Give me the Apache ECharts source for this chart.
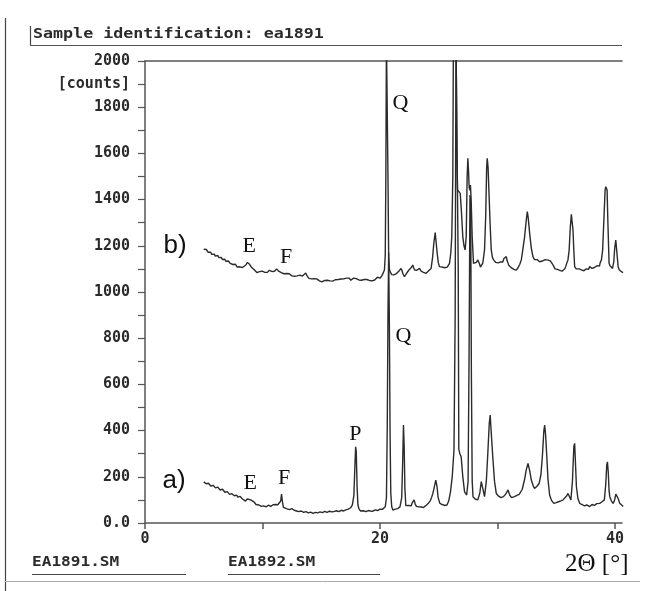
<!DOCTYPE html>
<html>
<head>
<meta charset="utf-8">
<script src="https://cdn.jsdelivr.net/npm/echarts@6/dist/echarts.min.js"></script>
<style>
  html, body { margin: 0; padding: 0; background: #fff; }
  #chart { width: 651px; height: 591px; }
</style>
</head>
<body>
<div id="chart"></div>
<script>
// Diffractogram of sample ea1891 (a) and ea1892 (b), counts vs 2-theta.
const sampleTitle = 'Sample identification: ea1891';
const fileNames = ['EA1891.SM', 'EA1892.SM'];
const xTicks = [0, 10, 20, 30, 40];
const xLabels = [0, 20, 40];
const yTicks = [0,100,200,300,400,500,600,700,800,900,1000,1100,1200,1300,1400,1500,1600,1700,1800,1900,2000];
const yLabels = [0,200,400,600,800,1000,1200,1400,1600,1800,1900,2000];
const yUnitAt = 1900;
const yUnitText = '[counts]';

// pattern a) [2theta, counts]
const patternA = [
  [5.0,178],[5.1,174],[5.2,170],[5.3,175],[5.4,172],[5.5,165],[5.6,160],[5.7,166],[5.8,163],[5.9,156],[6.0,152],[6.1,158],[6.2,155],[6.3,147],[6.4,143],[6.5,149],[6.6,146],[6.7,138],[6.8,133],[6.9,139],
  [7.0,136],[7.1,128],[7.2,124],[7.3,130],[7.4,127],[7.5,120],[7.6,118],[7.7,124],[7.8,121],[7.9,112],[8.0,108],[8.1,115],[8.2,112],[8.3,104],[8.4,100],[8.55,95],[8.7,104],
  [8.85,110],[9.0,100],[9.15,96],[9.3,90],[9.45,80],[9.6,73],[9.7,78],[9.8,76],[9.9,72],[10.0,70],[10.1,74],[10.2,75],[10.3,70],[10.4,71],
  [10.5,77],[10.6,76],[10.7,72],[10.8,73],[10.9,79],[11.0,78],[11.1,80],[11.2,82],[11.3,79],[11.4,86],[11.55,95],[11.62,125],[11.7,92],[11.78,68],[11.95,66],
  [12.1,61],[12.2,64],[12.3,58],[12.4,60],[12.5,62],[12.6,57],[12.7,55],[12.8,58],[12.9,52],[13.0,54],[13.1,49],[13.2,53],[13.3,52],[13.4,47],[13.5,46],[13.6,51],[13.7,49],[13.8,45],[13.9,44],
  [14.0,48],[14.1,47],[14.2,44],[14.3,42],[14.4,47],[14.5,46],[14.6,42],[14.7,44],[14.8,49],[14.9,48],[15.0,44],[15.1,45],[15.2,49],[15.3,50],[15.4,45],[15.5,46],[15.6,50],[15.7,51],[15.8,47],[15.9,48],
  [16.0,52],[16.1,50],[16.2,48],[16.3,53],[16.4,51],[16.5,49],[16.6,53],[16.7,55],[16.8,50],[16.9,52],[17.0,56],[17.1,57],[17.2,55],[17.3,60],[17.4,58],[17.5,66],[17.65,78],[17.78,120],
  [17.86,240],[17.93,330],[17.98,310],[18.05,160],[18.12,80],[18.2,62],[18.35,52],[18.5,48],[18.6,53],[18.7,55],[18.8,49],[18.9,50],
  [19.0,54],[19.1,49],[19.2,52],[19.3,56],[19.4,51],[19.5,53],[19.6,57],[19.7,58],[19.8,54],[19.9,57],[20.0,60],[20.1,62],[20.2,59],[20.3,65],[20.45,70],[20.55,110],[20.62,420],
  [20.68,900],[20.74,1170],[20.8,860],[20.86,380],[20.92,130],[21.0,70],[21.1,56],[21.2,62],[21.3,60],[21.4,65],[21.5,62],[21.6,68],[21.7,70],
  [21.85,110],[21.93,260],[22.0,424],[22.06,330],[22.12,150],[22.2,75],[22.35,68],[22.45,76],[22.55,80],[22.65,74],[22.75,88],[22.9,100],
  [23.0,82],[23.1,72],[23.2,66],[23.3,70],[23.4,64],[23.5,69],[23.6,72],[23.7,67],[23.8,70],[23.9,75],[24.0,78],[24.1,84],[24.2,90],[24.3,98],[24.4,112],[24.5,128],[24.6,150],[24.75,186],
  [24.85,160],[24.95,110],[25.1,85],[25.2,82],[25.3,80],[25.4,84],[25.5,76],[25.6,80],[25.7,78],[25.85,95],[26.0,135],[26.15,200],[26.3,316],
  [26.4,900],[26.47,2100],[26.6,2100],[26.66,1100],[26.71,320],[26.8,300],[26.91,287],[27.05,200],[27.2,135],[27.38,121],
  [27.5,180],[27.58,700],[27.66,1420],[27.72,1380],[27.78,650],[27.85,180],[27.92,114],[28.0,110],[28.1,104],[28.2,108],[28.33,100],[28.5,130],
  [28.62,179],[28.75,150],[28.9,114],[29.05,180],[29.18,302],[29.3,430],[29.38,467],[29.46,400],[29.6,287],[29.75,180],
  [29.9,128],[30.0,122],[30.1,116],[30.2,112],[30.3,110],[30.4,117],[30.5,114],[30.6,120],[30.7,125],[30.8,134],[30.9,143],[31.05,120],[31.2,110],[31.35,107],[31.45,114],[31.55,112],
  [31.65,120],[31.75,118],[31.85,124],[31.95,128],[32.1,145],[32.3,186],[32.45,230],[32.6,258],[32.75,225],[32.88,186],[33.05,160],[33.16,150],
  [33.25,156],[33.35,158],[33.45,166],[33.55,172],[33.7,210],[33.82,287],[33.95,400],[34.02,424],[34.1,380],[34.2,287],[34.3,190],[34.44,121],
  [34.6,98],[34.7,92],[34.8,85],[34.9,90],[35.0,88],[35.1,94],[35.2,92],[35.3,98],[35.4,96],[35.5,103],[35.58,100],[35.75,108],[35.9,118],[36.0,128],[36.12,115],
  [36.25,100],[36.38,180],[36.5,330],[36.57,345],[36.64,260],[36.72,157],[36.85,105],[37.0,85],[37.1,90],[37.2,80],[37.3,84],[37.4,74],
  [37.5,80],[37.6,78],[37.7,74],[37.85,71],[37.95,78],[38.05,80],[38.15,74],[38.25,76],[38.35,82],[38.45,84],[38.55,80],[38.7,85],[38.8,90],[38.9,92],[39.0,96],[39.1,100],[39.22,170],[39.3,250],
  [39.36,265],[39.43,220],[39.5,140],[39.56,114],[39.7,95],[39.84,85],[39.95,96],[40.08,125],[40.18,131],[40.28,105],
  [40.41,85],[40.55,78],[40.7,71]
];

// pattern b) [2theta, counts]
const patternB = [
  [5.0,1185],[5.08,1180],[5.15,1178],[5.22,1184],[5.3,1182],[5.38,1172],[5.45,1167],[5.52,1175],[5.6,1172],[5.68,1163],[5.75,1160],[5.82,1168],[5.9,1164],[5.98,1155],[6.05,1152],[6.12,1161],[6.2,1158],[6.28,1149],[6.35,1146],
  [6.42,1154],[6.5,1150],[6.58,1141],[6.65,1138],[6.72,1146],[6.8,1142],[6.88,1133],[6.95,1130],[7.02,1138],[7.1,1134],[7.18,1126],[7.25,1124],[7.32,1130],[7.4,1127],[7.48,1119],[7.55,1117],[7.62,1124],[7.7,1120],[7.78,1112],[7.85,1108],
  [7.92,1112],[8.0,1105],[8.08,1109],[8.15,1112],[8.22,1104],[8.3,1106],[8.38,1113],[8.45,1110],[8.6,1118],[8.72,1128],[8.81,1136],[8.9,1120],[9.0,1112],[9.08,1106],[9.15,1102],
  [9.22,1099],[9.3,1096],[9.38,1093],[9.45,1090],[9.52,1084],[9.6,1086],[9.68,1082],[9.75,1088],[9.82,1085],[9.9,1083],[9.98,1090],[10.05,1088],[10.12,1084],[10.2,1085],[10.28,1091],[10.35,1090],[10.42,1085],[10.5,1087],[10.58,1094],[10.65,1092],
  [10.72,1087],[10.8,1089],[10.88,1096],[10.95,1094],[11.02,1090],[11.1,1092],[11.2,1100],[11.3,1094],[11.38,1090],[11.45,1088],[11.52,1092],[11.6,1084],[11.68,1086],[11.75,1082],[11.82,1079],[11.9,1078],[11.98,1083],[12.05,1080],
  [12.12,1076],[12.2,1074],[12.28,1079],[12.35,1076],[12.42,1071],[12.5,1070],[12.58,1075],[12.65,1073],[12.72,1068],[12.8,1066],[12.88,1072],[12.95,1070],[13.02,1064],[13.1,1067],[13.18,1073],[13.25,1072],[13.32,1066],[13.4,1069],[13.48,1074],[13.55,1075],
  [13.68,1082],[13.8,1070],[13.95,1059],[14.02,1064],[14.1,1062],[14.18,1057],[14.25,1056],[14.32,1061],[14.4,1058],[14.48,1053],[14.55,1052],[14.62,1057],[14.7,1055],[14.78,1049],[14.85,1048],[14.92,1053],[15.0,1050],
  [15.06,1044],[15.12,1045],[15.2,1049],[15.3,1050],[15.38,1044],[15.45,1046],[15.52,1051],[15.6,1052],[15.68,1046],[15.75,1048],[15.82,1053],[15.9,1054],[15.98,1047],[16.05,1049],[16.12,1054],[16.2,1053],[16.28,1047],[16.35,1048],[16.45,1054],[16.55,1052],
  [16.62,1058],[16.7,1056],[16.78,1051],[16.85,1050],[16.92,1057],[17.0,1055],[17.08,1062],[17.15,1060],[17.22,1053],[17.3,1054],[17.38,1060],[17.45,1058],[17.52,1051],[17.6,1052],[17.68,1058],[17.75,1060],[17.82,1066],[17.9,1064],[17.98,1058],[18.05,1056],
  [18.12,1050],[18.2,1052],[18.28,1058],[18.35,1057],[18.42,1051],[18.5,1050],[18.58,1055],[18.65,1054],[18.72,1047],[18.8,1048],[18.88,1054],[18.95,1052],[19.02,1046],[19.1,1050],[19.18,1056],[19.25,1055],[19.32,1048],[19.4,1046],[19.48,1053],[19.55,1052],
  [19.62,1060],[19.7,1058],[19.78,1064],[19.85,1062],[19.95,1066],[20.02,1060],[20.1,1066],[20.18,1072],[20.25,1078],[20.38,1095],[20.45,1160],[20.5,1500],[20.55,2100],[20.63,2100],
  [20.68,1500],[20.74,1150],[20.8,1100],[20.86,1088],[20.94,1080],[21.0,1075],[21.06,1080],[21.12,1070],[21.18,1074],[21.23,1066],[21.32,1072],[21.4,1080],[21.5,1076],[21.6,1090],[21.7,1088],[21.8,1102],
  [21.88,1092],[21.95,1080],[22.02,1072],[22.08,1066],[22.16,1074],[22.25,1080],[22.35,1086],[22.45,1094],[22.52,1090],[22.6,1102],[22.7,1108],[22.79,1117],[22.88,1104],[22.95,1095],[23.02,1092],[23.08,1088],[23.14,1094],[23.2,1096],[23.28,1100],[23.36,1102],
  [23.44,1094],[23.5,1090],[23.6,1092],[23.7,1085],[23.8,1088],[23.93,1081],[24.02,1087],[24.1,1090],[24.18,1094],[24.25,1098],[24.35,1102],[24.48,1150],[24.58,1210],[24.7,1257],[24.78,1215],
  [24.87,1167],[24.96,1128],[25.06,1110],[25.13,1106],[25.2,1104],[25.3,1108],[25.4,1100],[25.5,1105],[25.63,1102],[25.72,1108],[25.8,1112],[25.92,1124],[26.03,1170],[26.11,1239],
  [26.2,1500],[26.25,2100],[26.48,2100],[26.54,1600],[26.6,1442],[26.68,1450],[26.76,1440],[26.83,1427],[26.92,1360],[27.05,1239],
  [27.15,1200],[27.25,1182],[27.34,1240],[27.42,1500],[27.48,1579],[27.54,1520],[27.59,1456],[27.64,1440],[27.7,1463],[27.76,1400],
  [27.85,1239],[27.96,1124],[28.04,1120],[28.1,1118],[28.2,1128],[28.26,1124],[28.33,1139],[28.4,1130],[28.48,1120],[28.55,1108],[28.62,1102],[28.68,1110],[28.75,1125],[28.9,1182],[29.0,1330],
  [29.08,1540],[29.13,1579],[29.2,1540],[29.27,1442],[29.37,1300],[29.47,1182],[29.57,1150],[29.67,1139],[29.76,1134],[29.85,1128],[29.92,1134],[30.0,1130],
  [30.08,1126],[30.18,1124],[30.26,1130],[30.35,1135],[30.45,1130],[30.55,1145],[30.65,1140],[30.75,1153],[30.82,1136],[30.9,1125],[30.96,1116],[31.03,1110],[31.1,1114],[31.2,1104],[31.3,1108],[31.4,1098],[31.5,1102],[31.6,1095],[31.68,1100],[31.75,1105],
  [31.9,1120],[32.03,1139],[32.15,1180],[32.31,1239],[32.45,1310],[32.54,1348],[32.62,1320],[32.74,1254],[32.88,1190],[33.02,1153],
  [33.08,1146],[33.15,1140],[33.22,1146],[33.3,1148],[33.38,1140],[33.45,1135],[33.52,1138],[33.59,1131],[33.66,1124],[33.75,1128],[33.82,1134],[33.9,1136],[33.98,1130],[34.05,1140],[34.12,1136],[34.2,1133],[34.3,1138],[34.4,1142],[34.5,1135],[34.59,1139],
  [34.7,1120],[34.8,1110],[34.9,1100],[35.01,1095],[35.1,1098],[35.2,1092],[35.3,1094],[35.4,1086],[35.5,1090],[35.58,1088],[35.66,1094],[35.75,1102],[35.82,1112],[35.9,1125],[36.0,1139],[36.1,1180],[36.2,1280],
  [36.29,1336],[36.36,1300],[36.43,1268],[36.5,1180],[36.57,1110],[36.64,1104],[36.7,1100],[36.78,1096],[36.86,1095],[36.95,1100],[37.05,1092],[37.15,1096],[37.28,1088],[37.36,1092],[37.45,1096],
  [37.55,1100],[37.65,1104],[37.75,1098],[37.85,1110],[37.95,1106],[38.05,1102],[38.15,1108],[38.25,1106],[38.32,1112],[38.42,1110],[38.5,1114],[38.6,1118],[38.68,1112],[38.75,1128],[38.85,1139],[38.95,1180],[39.08,1340],
  [39.16,1440],[39.22,1456],[39.33,1442],[39.4,1300],[39.5,1124],[39.58,1114],[39.65,1110],[39.72,1106],[39.79,1102],[39.9,1130],[39.98,1190],[40.07,1225],
  [40.15,1180],[40.27,1110],[40.36,1096],[40.45,1090],[40.55,1088],[40.69,1084]
];

// trace names and phase letters, anchored in data units [text, 2theta, counts]
const traceNames = [['b)', 2.56, 1199], ['a)', 2.47, 182]];
const phaseMarks = [
  ['E', 8.87, 1199], ['F', 12.02, 1152], ['Q', 21.74, 1818],
  ['E', 8.95, 173], ['F', 11.85, 195], ['P', 17.9, 385], ['Q', 22.0, 810]
];
const xUnit = '2Θ [°]';

const monoFont = '"DejaVu Sans Mono", "Liberation Mono", monospace';
const ink = '#2b2b2b';
const frame = '#555';

const chart = echarts.init(document.getElementById('chart'), null, { renderer: 'canvas' });

function annotationSeries(list, font, size) {
  return {
    type: 'scatter',
    data: list.map(d => ({ name: d[0], value: [d[1], d[2]] })),
    symbolSize: 1,
    itemStyle: { color: 'rgba(0,0,0,0)' },
    silent: true,
    clip: false,
    label: {
      show: true, position: 'inside', formatter: p => p.name,
      fontFamily: font, fontSize: size, color: '#111', opacity: 1
    },
    labelLayout: { hideOverlap: false },
    z: 5
  };
}

chart.setOption({
  animation: false,
  backgroundColor: '#fff',
  grid: { left: 145, right: 29, top: 61, bottom: 68 },
  xAxis: [{
    type: 'value', min: 0, max: 40.6, interval: 10,
    axisLine: { show: true, onZero: false, lineStyle: { color: frame, width: 1.5 } },
    axisTick: { show: true, inside: false, length: 6, customValues: xTicks, lineStyle: { color: frame, width: 1.5 } },
    axisLabel: {
      customValues: xLabels, formatter: v => String(v), margin: 9,
      fontFamily: monoFont, fontWeight: 'bold', fontSize: 15, color: ink
    },
    splitLine: { show: false }
  }, {
    type: 'value', min: 0, max: 40.6, position: 'top',
    axisLine: { show: true, onZero: false, lineStyle: { color: frame, width: 1.5 } },
    axisTick: { show: false }, axisLabel: { show: false }, splitLine: { show: false }
  }],
  yAxis: {
    type: 'value', min: 0, max: 2000, interval: 100,
    axisLine: { show: true, onZero: false, lineStyle: { color: frame, width: 1.5 } },
    axisTick: { show: true, length: 7, customValues: yTicks, lineStyle: { color: frame, width: 1.2 } },
    axisLabel: {
      customValues: yLabels, margin: 15,
      formatter: v => v === 0 ? '0.0' : (v === yUnitAt ? yUnitText : String(v)),
      fontFamily: monoFont, fontWeight: 'bold', fontSize: 15, color: ink
    },
    splitLine: { show: false }
  },
  series: [
    {
      name: 'b)', type: 'line', data: patternB, showSymbol: false, clip: true,
      lineStyle: { color: ink, width: 1.4 }, z: 3
    },
    {
      name: 'a)', type: 'line', data: patternA, showSymbol: false, clip: true,
      lineStyle: { color: ink, width: 1.4 }, z: 3
    },
    annotationSeries(traceNames, '"Liberation Sans", Arial, sans-serif', 26),
    annotationSeries(phaseMarks, '"Liberation Serif", "Times New Roman", serif', 22)
  ],
  graphic: [
    // page frame
    { type: 'line', shape: { x1: 5.5, y1: 18, x2: 5.5, y2: 591 }, style: { stroke: '#444', lineWidth: 1.2 } },
    { type: 'line', shape: { x1: 30.5, y1: 26, x2: 30.5, y2: 45 }, style: { stroke: '#444', lineWidth: 1.2 } },
    { type: 'line', shape: { x1: 30, y1: 45.5, x2: 622, y2: 45.5 }, style: { stroke: '#555', lineWidth: 1.2 } },
    {
      type: 'text', left: 33, top: 27, scaleX: 1.19,
      style: { text: sampleTitle, font: 'bold 14px ' + monoFont, fill: ink }
    },
    // file names in the footer
    {
      type: 'text', left: 32, top: 555, scaleX: 1.15,
      style: { text: fileNames[0], font: 'bold 14px ' + monoFont, fill: ink }
    },
    { type: 'line', shape: { x1: 32, y1: 574.5, x2: 186, y2: 574.5 }, style: { stroke: '#444', lineWidth: 1.2 } },
    {
      type: 'text', left: 228, top: 555, scaleX: 1.15,
      style: { text: fileNames[1], font: 'bold 14px ' + monoFont, fill: ink }
    },
    { type: 'line', shape: { x1: 228, y1: 574.5, x2: 380, y2: 574.5 }, style: { stroke: '#444', lineWidth: 1.2 } },
    { type: 'line', shape: { x1: 5, y1: 581.5, x2: 640, y2: 581.5 }, style: { stroke: '#aaa', lineWidth: 1 } },
    {
      type: 'text', left: 565, top: 552,
      style: { text: xUnit, font: '25px "Liberation Serif", "Times New Roman", serif', fill: '#111' }
    }
  ]
});
</script>
</body>
</html>
